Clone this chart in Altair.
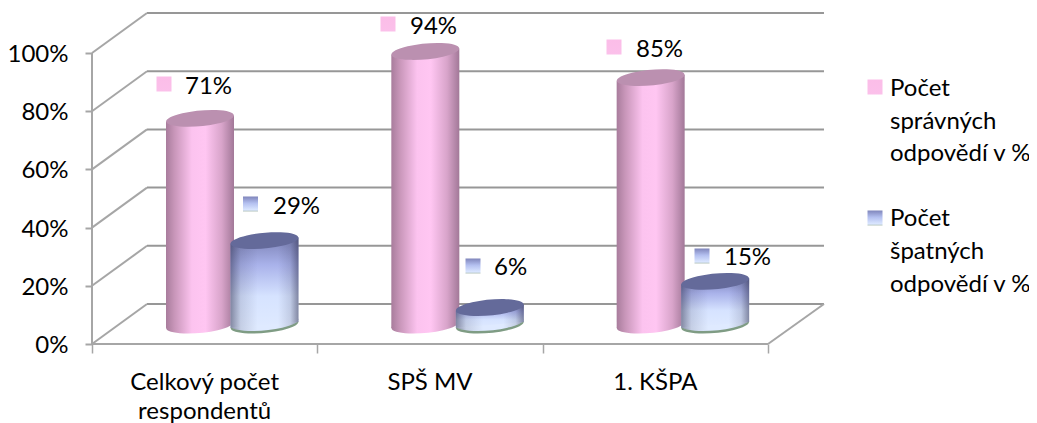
import altair as alt
import pandas as pd

categories = ["Celkový počet", "SPŠ MV", "1. KŠPA"]
category_second_line = ["respondentů", "", ""]
correct = [71, 94, 85]
wrong = [29, 6, 15]
y_ticks = [0, 20, 40, 60, 80, 100]
x_ticks = [0, 1, 2, 3]
legend_correct = ["Počet", "správných", "odpovědí v %"]
legend_wrong = ["Počet", "špatných", "odpovědí v %"]

FONT = "Lato"
FS = 24
UX = 225.33   # px per category
UY = 2.91     # px per percent
PL, PT = 92, 12
W, H = 732, 332


def ux(px):
    return (px - PL) / UX


def uy(py):
    return (344 - py) / UY


x_scale = alt.Scale(domain=[0, W / UX], nice=False, zero=False)
y_scale = alt.Scale(domain=[0, H / UY], nice=False, zero=False)
X = alt.X("x:Q", scale=x_scale, title=None)
Y = alt.Y("y:Q", scale=y_scale, title=None)

GRID = "#a6a6a6"
GRID_BACK = "#979797"
DEPTH_X = 55 / UX
DEPTH_Y = 40 / UY

# wall and floor lines
rows = []
back_rows = []
for t in y_ticks:
    rows.append(dict(x=0, x2=DEPTH_X, y=t, y2=t + DEPTH_Y))
    back_rows.append(dict(x=DEPTH_X, x2=3 + 56 / UX, y=t + DEPTH_Y, y2=t + DEPTH_Y))
rows.append(dict(x=0, x2=0, y=0, y2=100))
rows.append(dict(x=0, x2=3, y=0, y2=0))
rows.append(dict(x=3, x2=3 + 56 / UX, y=0, y2=DEPTH_Y))
grid = alt.Chart(pd.DataFrame(rows)).mark_rule(color=GRID, strokeWidth=2).encode(
    x=X, x2="x2:Q", y=Y, y2="y2:Q"
)
grid_back = alt.Chart(pd.DataFrame(back_rows)).mark_rule(color=GRID_BACK, strokeWidth=2).encode(
    x=X, x2="x2:Q", y=Y, y2="y2:Q"
)

# axes (ticks and percentage labels)
axes = alt.Chart(pd.DataFrame({"x": x_ticks, "y": y_ticks[:4]})).mark_point(opacity=0).encode(
    x=alt.X(
        "x:Q", scale=x_scale, title=None,
        axis=alt.Axis(
            values=x_ticks, title=None, domain=False, grid=False, labels=False,
            tickSize=9, tickWidth=1.5, tickColor=GRID,
        ),
    ),
    y=alt.Y(
        "y:Q", scale=y_scale, title=None,
        axis=alt.Axis(
            values=y_ticks, title=None, domain=False, grid=False,
            tickSize=7, tickWidth=2, tickColor=GRID, labelPadding=17,
            labelFont=FONT, labelFontSize=FS, labelColor="#000000", labelOffset=1.5,
            labelExpr="datum.value + '%'",
        ),
    ),
)

# cylinders
HALF = 34 / UX
BASE = uy(325)
RIM = 2.5 / UY
TILT = 3 / UY
PINK_OFF = ux(200)
BLUE_OFF = ux(264.5)
ELL = "M-0.9955,0.0945 A1,0.23 -5.4 1 1 0.9955,-0.0945 A1,0.23 -5.4 1 1 -0.9955,0.0945 Z"
ELL_SIZE = 4 * 34 ** 2


def body(values, off):
    out = []
    for i, v in enumerate(values):
        c = i + off
        out.append(dict(id=i, x=c - HALF, y=BASE + v - TILT, y2=BASE - TILT))
        out.append(dict(id=i, x=c + HALF, y=BASE + v + TILT, y2=BASE + TILT))
    return pd.DataFrame(out)


def caps(values, off, base_only=False, lift=0):
    return pd.DataFrame(
        [dict(x=i + off, y=BASE + lift + (0 if base_only else v)) for i, v in enumerate(values)]
    )


def stops(*pairs):
    return [alt.GradientStop(offset=o, color=c) for o, c in pairs]


pink_h = alt.LinearGradient(
    gradient="linear", x1=0, x2=1, y1=0, y2=0,
    stops=stops((0, "#a87c9c"), (0.12, "#c795b8"), (0.38, "#fcc3ef"), (0.58, "#ffc6f2"),
                (0.82, "#d8a4ca"), (1, "#a27898")),
)
blue_v = alt.LinearGradient(
    gradient="linear", x1=0, x2=0, y1=0, y2=1,
    stops=stops((0, "#7c82b6"), (0.3, "#a9b2ea"), (0.65, "#d6e3ff"), (1, "#dfeaff")),
)
shade_h = alt.LinearGradient(
    gradient="linear", x1=0, x2=1, y1=0, y2=0,
    stops=stops((0, "rgba(40,40,70,0.5)"), (0.15, "rgba(40,40,70,0.14)"), (0.4, "rgba(40,40,70,0)"),
                (0.7, "rgba(40,40,70,0)"), (0.88, "rgba(40,40,70,0.14)"), (1, "rgba(40,40,70,0.5)")),
)


def ellipse(df, fill):
    return alt.Chart(df).mark_point(
        shape=ELL, size=ELL_SIZE, filled=True, fill=fill, opacity=1, strokeWidth=0, clip=False
    ).encode(x=X, y=Y)


def area(df, fill):
    return alt.Chart(df).mark_area(fill=fill, opacity=1, clip=False).encode(
        x=X, y=Y, y2="y2:Q", detail="id:N"
    )


pink_layers = [
    ellipse(caps(correct, PINK_OFF, True), pink_h),
    area(body(correct, PINK_OFF), pink_h),
    ellipse(caps(correct, PINK_OFF), "#bb90b0"),
]
blue_layers = [
    ellipse(caps(wrong, BLUE_OFF, True), "#7f9c84"),
    ellipse(caps(wrong, BLUE_OFF, True, RIM), "#dfeaff"),
    ellipse(caps(wrong, BLUE_OFF, True, RIM), shade_h),
    area(body(wrong, BLUE_OFF), blue_v),
    area(body(wrong, BLUE_OFF), shade_h),
    ellipse(caps(wrong, BLUE_OFF), "#646a9a"),
]

# data labels: swatch and value
pink_swatch = alt.LinearGradient(
    gradient="linear", x1=0, x2=0, y1=0, y2=1,
    stops=stops((0, "#fbbde8"), (1, "#fbc0ea")),
)
blue_swatch = alt.LinearGradient(
    gradient="linear", x1=0, x2=0, y1=0, y2=1,
    stops=stops((0, "#7f85bb"), (0.45, "#b4c0f0"), (0.9, "#dbe7ff"), (1, "#b0c0b8")),
)
pink_lab_pos = [(164, 84, 185, 87), (388, 24, 410, 27), (614, 47, 636, 50)]
blue_lab_pos = [(250.5, 204, 273, 207), (473, 266, 494, 268), (702, 256, 724, 258)]


def swatches(positions, fill):
    df = pd.DataFrame([dict(x=ux(p[0]), y=uy(p[1])) for p in positions])
    return alt.Chart(df).mark_square(
        size=225, fill=fill, filled=True, opacity=1, strokeWidth=0, clip=False
    ).encode(x=X, y=Y)


def value_text(values, positions):
    df = pd.DataFrame(
        [dict(x=ux(p[2]), y=uy(p[3]), t=f"{v}%") for v, p in zip(values, positions)]
    )
    return alt.Chart(df).mark_text(
        align="left", baseline="middle", font=FONT, fontSize=FS, color="#000000", clip=False
    ).encode(x=X, y=Y, text="t:N")


# category labels
cat_rows = []
for i, (a, b) in enumerate(zip(categories, category_second_line)):
    cat_rows.append(dict(x=i + 0.5, y=uy(382.5), t=a))
    if b:
        cat_rows.append(dict(x=i + 0.5, y=uy(411.5), t=b))
cat_text = alt.Chart(pd.DataFrame(cat_rows)).mark_text(
    align="center", baseline="middle", font=FONT, fontSize=FS, color="#000000", clip=False
).encode(x=X, y=Y, text="t:N")

# legend
leg_rows = []
for line, py in zip(legend_correct, [89, 121.5, 154]):
    leg_rows.append(dict(x=ux(890), y=uy(py), t=line))
for line, py in zip(legend_wrong, [219, 251.5, 284.5]):
    leg_rows.append(dict(x=ux(890), y=uy(py), t=line))
leg_text = alt.Chart(pd.DataFrame(leg_rows)).mark_text(
    align="left", baseline="middle", font=FONT, fontSize=FS, color="#000000", clip=False
).encode(x=X, y=Y, text="t:N")

chart = alt.layer(
    axes, grid_back, grid, *pink_layers, *blue_layers,
    swatches(pink_lab_pos, pink_swatch), swatches(blue_lab_pos, blue_swatch),
    value_text(correct, pink_lab_pos), value_text(wrong, blue_lab_pos),
    cat_text, leg_text,
    swatches([(875, 87)], pink_swatch), swatches([(875, 218)], blue_swatch),
).properties(
    width=W, height=H, background="#ffffff",
    padding={"left": PL - 8, "top": PT - 8, "right": 205, "bottom": 79},
    autosize=alt.AutoSizeParams(type="none"),
).configure_view(stroke=None)

chart.save("out.html", embed_options={"renderer": "svg", "actions": False})
